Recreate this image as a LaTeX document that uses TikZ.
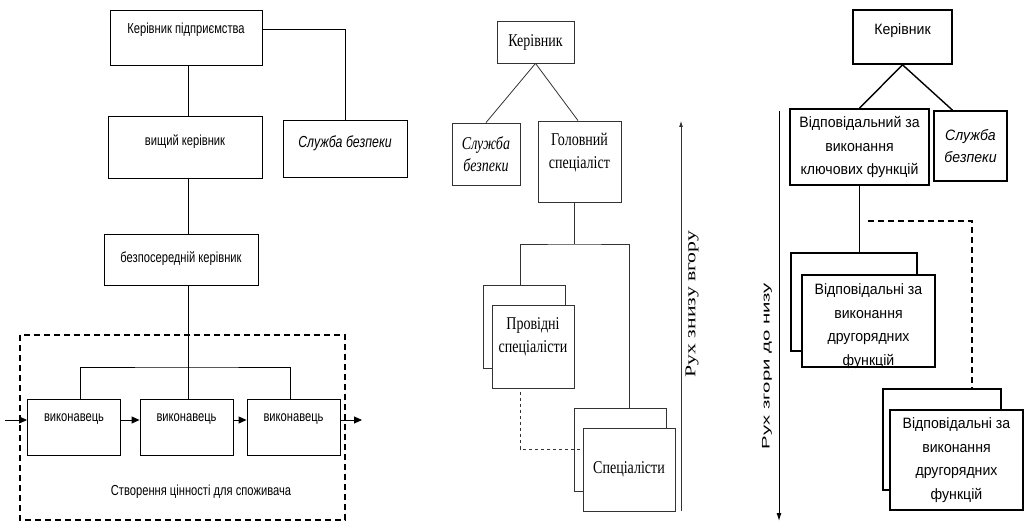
\documentclass[tikz,border=0pt]{standalone}
\usepackage{fontspec}
\usepackage{tikz}
\usetikzlibrary{arrows.meta}
\newfontfamily\lsans[FakeStretch=0.77]{Liberation Sans}
\newfontfamily\mserif[FakeStretch=0.78]{Liberation Serif}
\newfontfamily\rsans[FakeStretch=0.94]{Liberation Sans}
\newfontfamily\mup[FakeStretch=1.45]{Liberation Serif}
\newfontfamily\rdown[FakeStretch=1.85]{Liberation Sans}
\tikzset{
  lbox/.style={draw, line width=0.9pt, inner sep=0pt, align=center, font=\lsans\fontsize{14.5}{17}\selectfont},
  mbox/.style={draw=black!80, line width=0.8pt, fill=white, inner sep=0pt, align=center, font=\mserif\fontsize{18}{23}\selectfont},
  rbox/.style={draw, line width=1.6pt, fill=white, inner sep=0pt, align=center, font=\rsans\fontsize{15}{23.5}\selectfont},
  lift/.style={text depth=#1},
  lline/.style={line width=0.9pt},
  mline/.style={draw=black!80, line width=0.8pt},
  rline/.style={line width=1.4pt},
  tip/.style={-{Triangle[length=8pt,width=7pt]}},
}
\begin{document}
\begin{tikzpicture}[x=1pt,y=-1pt]
\useasboundingbox (0,0) rectangle (1027,526);

% left: from the head of the enterprise to the performers
\node[lbox, minimum width=152, minimum height=55, lift=19pt] (kerp) at (186,37.5) {Керівник підприємства};
\node[lbox, minimum width=154, minimum height=62, lift=14pt] (vyshch) at (185,147) {вищий керівник};
\node[lbox, minimum width=154, minimum height=51, lift=5pt] (bezp) at (181,259.5) {безпосередній керівник};
\node[lbox, minimum width=124, minimum height=57, lift=13pt, font=\lsans\itshape\fontsize{16}{19}\selectfont] (sluzhl) at (345,148.5) {Служба безпеки};
\foreach \x/\n in {74/1, 186.5/2, 293.5/3}
  \node[lbox, minimum width=93, minimum height=56, lift=18pt] (vyk\n) at (\x,427) {виконавець};

\coordinate (hub) at (188,367);
\coordinate (in) at (5,420);
\coordinate (out) at (362,420);
\draw[lline] (hub |- kerp.south) -- (hub |- vyshch.north);
\draw[lline] ([yshift=8.5pt]kerp.east) -| (sluzhl.north);
\draw[lline] (hub |- vyshch.south) -- (hub |- bezp.north);
\draw[lline] (hub |- bezp.south) -- (hub |- vyk2.north);
\draw[lline] ([xshift=6pt]vyk1.north) |- (hub) -| ([xshift=-3.5pt]vyk3.north);
\draw[lline, tip] (in) -- (in -| vyk1.west);
\draw[lline, tip] ([yshift=7pt]vyk1.east) -- ([yshift=7pt]vyk2.west);
\draw[lline, tip] ([yshift=7pt]vyk2.east) -- ([yshift=7pt]vyk3.west);
\draw[lline, tip] ([yshift=7pt]vyk3.east) -- (out);

\draw[line width=1.1pt, dash pattern=on 6pt off 4pt] (20,335) rectangle (345,520);
\node[font=\lsans\fontsize{14.5}{17}\selectfont] (caption) at (201,492) {Створення цінності для споживача};

% middle: movement from the bottom up
\node[mbox, minimum width=77, minimum height=42] (kerm) at (535.5,42) {Керівник};
\node[mbox, minimum width=68, minimum height=62, font=\mserif\itshape\fontsize{18}{22}\selectfont] (sluzhm) at (486,154) {Служба\\безпеки};
\node[mbox, minimum width=83, minimum height=81, lift=22pt] (golov) at (579.5,161.5) {Головний\\спеціаліст};
\node[mbox, minimum width=82, minimum height=83] (provb) at (524,326.5) {};
\node[mbox, minimum width=82, minimum height=83, lift=22pt] (provf) at (533,346.5) {Провідні\\спеціалісти};
\node[mbox, minimum width=92, minimum height=83] (specb) at (620,449.5) {};
\node[mbox, minimum width=92, minimum height=83] (specf) at (629,469.5) {Спеціалісти};

\coordinate (split) at (574,244);
\draw[mline] (kerm.south) -- (sluzhm.north);
\draw[mline] (kerm.south) -- ([xshift=-1.5pt]golov.north);
\draw[mline] (split |- golov.south) -- (split);
\draw[mline] ([xshift=-4pt]provb.north) |- (split) -| ([xshift=9pt]specb.north);
\draw[mline, dashed] ([shift={(-13,4)}]provf.south) |- ([yshift=20.5pt]specf.west);

\coordinate (upb) at (681,511);
\coordinate (upt) at (681,121);
\draw[mline, -{Latex[length=6pt,width=4pt]}] (upb) -- (upt);
\node[rotate=90, font=\mup\fontsize{15}{18}\selectfont] (upl) at (692,304) {Рух знизу вгору};

% right: movement from the top down
\node[rbox, minimum width=99, minimum height=54, lift=16pt] (kerr) at (902.5,37) {Керівник};
\node[rbox, minimum width=139, minimum height=76] (vidp) at (859.5,147) {Відповідальний за\\виконання\\ключових функцій};
\node[rbox, minimum width=73, minimum height=70, font=\rsans\itshape\fontsize{15}{22}\selectfont] (sluzhr) at (970.5,146) {Служба\\безпеки};
\node[rbox, minimum width=126, minimum height=98] (g1b) at (854,302) {};
\node[rbox, minimum width=133, minimum height=92, text height=88pt, text depth=0pt] (g1f) at (868.5,321) {Відповідальні за\\виконання\\другорядних\\функцій};
\node[rbox, minimum width=118, minimum height=101] (g2b) at (942,439.5) {};
\node[rbox, minimum width=133, minimum height=100] (g2f) at (956.5,460) {Відповідальні за\\виконання\\другорядних\\функцій};

\coordinate (dstart) at (868,221);
\draw[rline] (kerr.south) -- (vidp.north);
\draw[rline] (kerr.south) -- ([xshift=-18pt]sluzhr.north);
\draw[rline] (vidp.south) -- (vidp.south |- g1b.north);
\draw[rline, dash pattern=on 6pt off 4pt] (dstart) -| ([xshift=30pt]g2b.north);

\coordinate (downt) at (779,111);
\coordinate (downb) at (779,521);
\draw[line width=1pt, -{Latex[length=8pt,width=5pt]}] (downt) -- (downb);
\node[rotate=90, font=\rdown\fontsize{11}{13}\selectfont] (downl) at (767,366) {Рух згори до низу};
\end{tikzpicture}
\end{document}
